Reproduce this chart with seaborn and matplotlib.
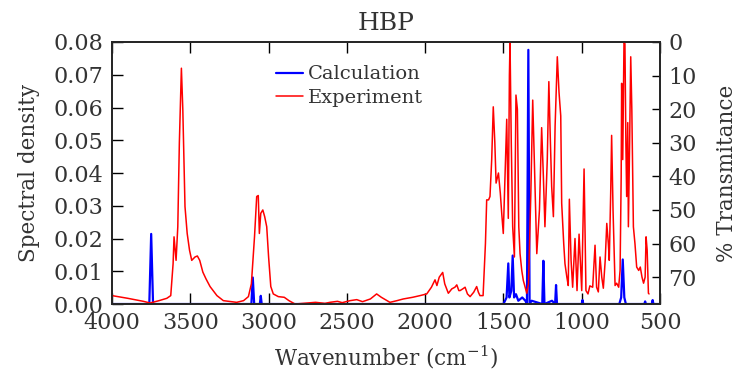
import numpy as np
import pandas as pd
import matplotlib
matplotlib.use("Agg")
import matplotlib.pyplot as plt
import seaborn as sns

# ------------------------------------------------------------
# Data
# ------------------------------------------------------------
# calculated spectrum (left axis, spectral density)
calc_wn = [4000, 3762, 3750, 3738, 3110, 3101, 3092, 3056, 3050, 3044,
           1500, 1480, 1469, 1462, 1450, 1441, 1432, 1420, 1405, 1380,
           1360, 1350, 1341, 1333, 1320, 1252, 1245, 1238, 1190, 1170,
           1164, 1158, 1000, 995, 990, 760, 748, 738, 728, 718,
           600, 595, 590, 552, 547, 542, 500]
calc_density = [0, 0, 0.0214, 0, 0, 0.0081, 0, 0, 0.0025, 0,
                0, 0.002, 0.0124, 0.002, 0.004, 0.0148, 0.002, 0.003, 0.001, 0.002,
                0.001, 0, 0.0776, 0, 0.001, 0, 0.0132, 0, 0.001, 0,
                0.0058, 0, 0, 0.0012, 0, 0, 0.002, 0.0136, 0.002, 0,
                0, 0.0008, 0, 0, 0.0012, 0, 0]

# experimental spectrum (right axis, % transmitance)
exp_wn = [4000, 3900, 3800, 3757, 3700, 3650, 3625, 3610, 3604, 3591,
          3580, 3570, 3557, 3548, 3534, 3520, 3505, 3491, 3470, 3455,
          3440, 3420, 3400, 3374, 3330, 3289, 3204, 3160, 3129, 3110,
          3090, 3076, 3066, 3059, 3050, 3037, 3025, 3012, 3000, 2986,
          2970, 2938, 2900, 2870, 2831, 2780, 2700, 2640, 2608, 2560,
          2530, 2480, 2437, 2400, 2350, 2310, 2280, 2225, 2180, 2140,
          2080, 2033, 1990, 1960, 1937, 1925, 1910, 1888, 1875, 1852,
          1830, 1810, 1798, 1785, 1777, 1760, 1745, 1730, 1713, 1690,
          1671, 1660, 1650, 1630, 1615, 1607, 1595, 1586, 1575, 1565,
          1555, 1547, 1532, 1520, 1511, 1501, 1490, 1479, 1469, 1462,
          1458, 1450, 1441, 1430, 1420, 1411, 1402, 1394, 1383, 1373,
          1351, 1340, 1325, 1313, 1300, 1287, 1270, 1256, 1245, 1235,
          1220, 1210, 1200, 1192, 1181, 1170, 1156, 1145, 1134, 1128,
          1115, 1107, 1095, 1086, 1079, 1068, 1058, 1043, 1030, 1017,
          1000, 985, 973, 960, 948, 930, 915, 905, 894, 883,
          872, 862, 850, 840, 830, 824, 815, 809, 800, 787,
          777, 764, 755, 748, 745, 738, 730, 724, 718, 713,
          706, 702, 694, 687, 680, 670, 660, 649, 636, 626,
          615, 605, 595, 589, 582, 574, 570]
exp_trans = [75.5, 76.3, 77.2, 77.7, 77.0, 76.3, 75.5, 66, 58, 65,
             55, 30, 7.8, 20, 49, 57, 62, 65, 64, 63.7,
             65, 68.5, 70.5, 72.8, 75.5, 77, 77.5, 77, 75.8, 72,
             58, 46, 45.7, 57, 51, 50, 52, 55, 64, 72.8,
             75, 75.8, 76, 77, 78, 77.8, 77.5, 77.8, 77.5, 77.2,
             77.6, 77, 76.7, 77.3, 76.5, 75, 76, 77.5, 77, 76.5,
             76, 75.5, 75, 73, 70.8, 72.5, 70, 68.6, 72, 74.8,
             73.5, 73, 72.3, 74, 74, 73.5, 73, 75, 75.8, 74.5,
             72.8, 74.5, 75.5, 75.5, 60, 47, 47, 46, 35, 19.3,
             30, 42, 39, 45, 51, 57, 40, 23, 52.5, 10,
             0, 30, 55, 64, 15.8, 20, 55, 63, 68, 71,
             74.8, 72, 45, 17.3, 40, 63, 50, 25.5, 40, 55,
             35, 11.8, 30, 43, 52, 25, 4.4, 15, 22, 48,
             60, 66, 70, 72.5, 46.8, 65, 73, 58.5, 74, 57.2,
             74, 37.8, 74, 75, 72.6, 73, 60.5, 73, 74.4, 64,
             70, 73.3, 65, 54, 60, 65, 45, 27.8, 50, 72.5,
             71.8, 73, 68, 40, 12.3, 35, 0, 0.5, 30, 46,
             24, 55, 30, 4.4, 20, 55, 60, 67, 68, 67,
             70, 71.8, 70, 58, 62, 74.8, 75]

calc_df = pd.DataFrame({"Wavenumber": calc_wn, "Density": calc_density})
exp_df = pd.DataFrame({"Wavenumber": exp_wn, "Transmitance": exp_trans})

# ------------------------------------------------------------
# Plot
# ------------------------------------------------------------
sns.set_style("ticks")
plt.rcParams["font.family"] = ["DejaVu Serif"]
plt.rcParams["mathtext.fontset"] = "dejavuserif"
txt = "#333333"
plt.rcParams["text.color"] = txt
plt.rcParams["xtick.color"] = "black"
plt.rcParams["ytick.color"] = "black"
plt.rcParams["xtick.labelcolor"] = txt
plt.rcParams["ytick.labelcolor"] = txt
plt.rcParams["axes.labelcolor"] = txt

fig = plt.figure(figsize=(7.4, 3.75), dpi=100)
ax = fig.add_axes([0.1514, 0.1893, 0.7405, 0.6987])
ax2 = ax.twinx()

sns.lineplot(data=calc_df, x="Wavenumber", y="Density", ax=ax,
             color="#0000ff", linewidth=1.6, estimator=None, sort=False,
             label="Calculation", legend=False)
sns.lineplot(data=exp_df, x="Wavenumber", y="Transmitance", ax=ax2,
             color="#ff0000", linewidth=1.1, estimator=None, sort=False,
             label="Experiment", legend=False)

ax.set_xlim(4000, 500)
ax.set_ylim(0, 0.08)
ax2.set_ylim(78, 0)

ax.set_xticks(np.arange(4000, 499, -500))
ax.set_yticks(np.arange(0, 0.081, 0.01))
ax.set_yticklabels([f"{v:.2f}" for v in np.arange(0, 0.081, 0.01)])
ax2.set_yticks(np.arange(0, 71, 10))

ax.set_xlabel("Wavenumber (cm$^{-1}$)", fontsize=15.5, labelpad=7)
ax.set_ylabel("Spectral density", fontsize=15.5, labelpad=10)
ax2.set_ylabel("% Transmitance", fontsize=15.5, labelpad=14)
ax.set_title("HBP", fontsize=18, pad=9)

ax.tick_params(axis="both", direction="in", length=8, width=1, labelsize=16,
               top=True, right=False, pad=6)
ax2.tick_params(axis="y", direction="in", length=6, width=1, labelsize=16, pad=6)
for a in (ax, ax2):
    for sp in a.spines.values():
        sp.set_linewidth(1.3)
        sp.set_visible(True)

h1, l1 = ax.get_legend_handles_labels()
h2, l2 = ax2.get_legend_handles_labels()
ax2.legend(h1 + h2, l1 + l2, loc="upper left", bbox_to_anchor=(0.27, 0.97),
           frameon=False, handlelength=1.4, handletextpad=0.25,
           labelspacing=0.3, fontsize=14, borderpad=0.3)

fig.savefig("out.png", dpi=100)
